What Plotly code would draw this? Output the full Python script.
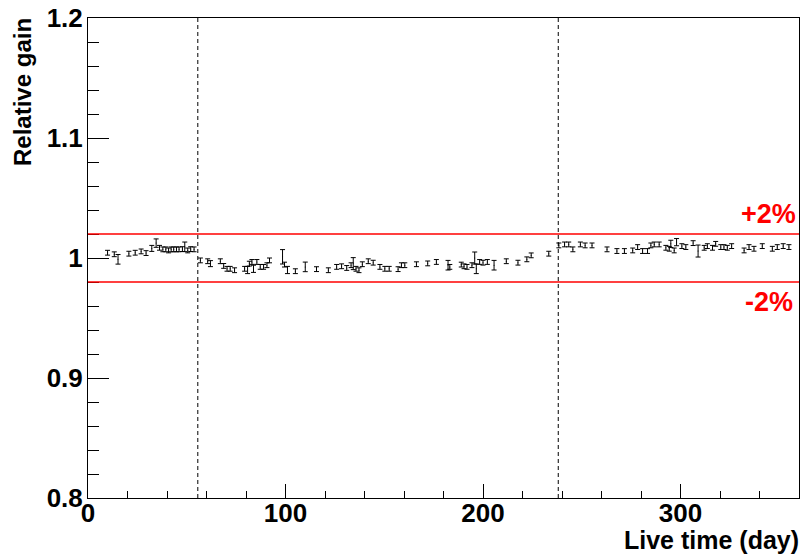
import plotly.graph_objects as go

# Relative gain vs live time, three running periods
days = [
    9.9, 13.3, 15.2, 20.7, 23.9, 26.9, 29.4, 32.3, 34.5, 36.2, 37.9, 39.4, 40.8, 42.1,
    43.4, 44.8, 46.1, 47.8, 49.0, 50.5, 52.0, 53.7,
    56.9, 60.6, 62.0, 67.0, 68.7, 70.4, 72.0, 74.2, 79.3, 80.8, 81.7, 83.0, 83.8, 85.5,
    87.2, 88.9, 90.6, 91.9, 98.5, 99.5, 101.0, 105.0, 110.0, 115.7, 121.7, 125.9, 128.4,
    131.0, 133.2, 134.3, 135.7, 137.2, 138.9, 141.9, 144.4, 147.8, 150.3, 152.5, 157.0,
    158.7, 160.4, 166.3, 172.0, 176.4, 182.3, 183.2, 189.0, 190.4, 191.9, 194.4, 195.8,
    196.6, 198.3, 200.0, 202.2, 205.6, 211.8, 217.7, 222.2, 224.4, 233.3,
    238.4, 241.3, 243.4, 245.5, 249.3, 251.7, 255.2, 262.8, 267.8, 271.6, 275.8, 278.3,
    280.8, 283.3, 285.0, 286.7, 289.2, 292.6, 294.3, 295.1, 296.8, 298.0, 300.7, 302.7,
    306.4, 308.9, 312.0, 313.6, 316.2, 317.8, 320.4, 322.0, 323.7, 325.9, 332.2, 334.7,
    337.2, 341.4, 346.5, 349.0, 352.0, 354.9,
]
gain = [
    1.0044, 1.0031, 0.9989, 1.0036, 1.0044, 1.0055, 1.0041, 1.0080, 1.0124, 1.0085, 1.0072,
    1.0072, 1.0063, 1.0072, 1.0072, 1.0072, 1.0072, 1.0074, 1.0093, 1.0063, 1.0074, 1.0072,
    0.9980, 0.9973, 0.9953, 0.9973, 0.9934, 0.9910, 0.9910, 0.9898, 0.9910, 0.9900, 0.9953,
    0.9967, 0.9910, 0.9967, 0.9926, 0.9926, 0.9940, 0.9980, 1.0010, 0.9945, 0.9900, 0.9890,
    0.9926, 0.9907, 0.9898, 0.9926, 0.9931, 0.9917, 0.9940, 0.9953, 0.9910, 0.9898, 0.9948,
    0.9973, 0.9961, 0.9926, 0.9910, 0.9910, 0.9907, 0.9940, 0.9940, 0.9948, 0.9955, 0.9967,
    0.9940, 0.9926, 0.9945, 0.9931, 0.9926, 0.9940, 1.0000, 0.9910, 0.9967, 0.9961, 0.9967,
    0.9940, 0.9973, 0.9961, 0.9989, 1.0022, 1.0036,
    1.0105, 1.0113, 1.0113, 1.0072, 1.0113, 1.0105, 1.0105, 1.0072, 1.0058, 1.0058, 1.0063,
    1.0091, 1.0058, 1.0058, 1.0105, 1.0113, 1.0113, 1.0085, 1.0077, 1.0118, 1.0063, 1.0132,
    1.0099, 1.0091, 1.0124, 1.0058, 1.0085, 1.0099, 1.0085, 1.0118, 1.0091, 1.0091, 1.0085,
    1.0099, 1.0063, 1.0091, 1.0077, 1.0099, 1.0077, 1.0091, 1.0099, 1.0091,
]
gain_err = [
    0.002, 0.002, 0.004, 0.002, 0.002, 0.002, 0.002, 0.0025, 0.0035, 0.002, 0.002,
    0.002, 0.002, 0.002, 0.002, 0.002, 0.002, 0.002, 0.004, 0.002, 0.002, 0.002,
    0.002, 0.002, 0.0025, 0.002, 0.002, 0.002, 0.002, 0.002, 0.002, 0.003, 0.002,
    0.002, 0.003, 0.002, 0.002, 0.002, 0.002, 0.002, 0.006, 0.002, 0.003, 0.002,
    0.004, 0.002, 0.002, 0.002, 0.002, 0.002, 0.002, 0.005, 0.002, 0.002, 0.002,
    0.002, 0.002, 0.002, 0.002, 0.002, 0.002, 0.002, 0.002, 0.002, 0.002, 0.002,
    0.004, 0.002, 0.002, 0.002, 0.002, 0.002, 0.005, 0.004, 0.002, 0.002, 0.002,
    0.004, 0.002, 0.002, 0.002, 0.002, 0.002,
    0.002, 0.002, 0.002, 0.002, 0.002, 0.002, 0.002, 0.002, 0.002, 0.002, 0.002,
    0.002, 0.002, 0.002, 0.002, 0.002, 0.002, 0.002, 0.002, 0.003, 0.002, 0.003,
    0.002, 0.002, 0.002, 0.005, 0.002, 0.002, 0.002, 0.002, 0.002, 0.002, 0.002,
    0.002, 0.002, 0.002, 0.002, 0.002, 0.002, 0.002, 0.002, 0.002,
]

period_bounds = [55.6, 238.1]
band = [0.98, 1.02]
band_labels = ["-2%", "+2%"]
x_range = [0, 360]
y_range = [0.8, 1.2]

FONT = "Liberation Sans, Arial, Helvetica, sans-serif"

fig = go.Figure()
fig.add_trace(go.Scatter(
    x=days, y=gain, mode="markers",
    marker=dict(size=1, color="black"),
    error_y=dict(type="data", array=gain_err, visible=True,
                 color="black", thickness=1, width=2.5),
    showlegend=False,
))

for xb in period_bounds:
    fig.add_shape(type="line", xref="x", yref="y", x0=xb, x1=xb,
                  y0=y_range[0], y1=y_range[1],
                  line=dict(color="black", width=1, dash="4px,3px"))

for yb in band:
    fig.add_shape(type="line", xref="x", yref="y", x0=x_range[0], x1=x_range[1],
                  y0=yb, y1=yb, line=dict(color="#ff0000", width=1.3))

fig.add_annotation(x=x_range[1], y=band[1], xref="x", yref="y", text=band_labels[1],
                   showarrow=False, xanchor="right", yanchor="bottom", xshift=-1, yshift=3,
                   font=dict(family=FONT, size=27, color="#ff0000", weight="bold"))
fig.add_annotation(x=x_range[1], y=band[0], xref="x", yref="y", text=band_labels[0],
                   showarrow=False, xanchor="right", yanchor="top", xshift=-4, yshift=-3,
                   font=dict(family=FONT, size=27, color="#ff0000", weight="bold"))

# axis titles
fig.add_annotation(x=0, y=1, xref="paper", yref="paper", text="Relative gain",
                   textangle=-90, showarrow=False, xanchor="center", yanchor="top",
                   xshift=-66, yshift=2, font=dict(family=FONT, size=24, color="black", weight="bold"))
fig.add_annotation(x=1, y=0, xref="paper", yref="paper", text="Live time (day)",
                   showarrow=False, xanchor="right", yanchor="top", yshift=-26, xshift=2,
                   font=dict(family=FONT, size=25, color="black", weight="bold"))

axis_common = dict(showline=True, linecolor="black", linewidth=1, mirror=True,
                   showgrid=False, zeroline=False, ticks="inside", tickcolor="black",
                   tickwidth=1, ticklabeloverflow="allow",
                   tickfont=dict(family=FONT, size=26, color="black", weight="bold"))

fig.update_xaxes(range=x_range, dtick=100, tick0=0, ticklen=14, ticklabelstandoff=-8,
                 minor=dict(dtick=20, ticklen=7, ticks="inside", tickcolor="black", showgrid=False),
                 **axis_common)
fig.update_yaxes(range=y_range, dtick=0.1, tick0=0.8, ticklen=21, ticklabelstandoff=-1,
                 minor=dict(dtick=0.02, ticklen=10.5, ticks="inside", tickcolor="black", showgrid=False),
                 **axis_common)

fig.update_layout(width=803, height=557, margin=dict(l=88, r=3, t=14, b=59),
                  plot_bgcolor="white", paper_bgcolor="white")

fig.write_html("out.html")
